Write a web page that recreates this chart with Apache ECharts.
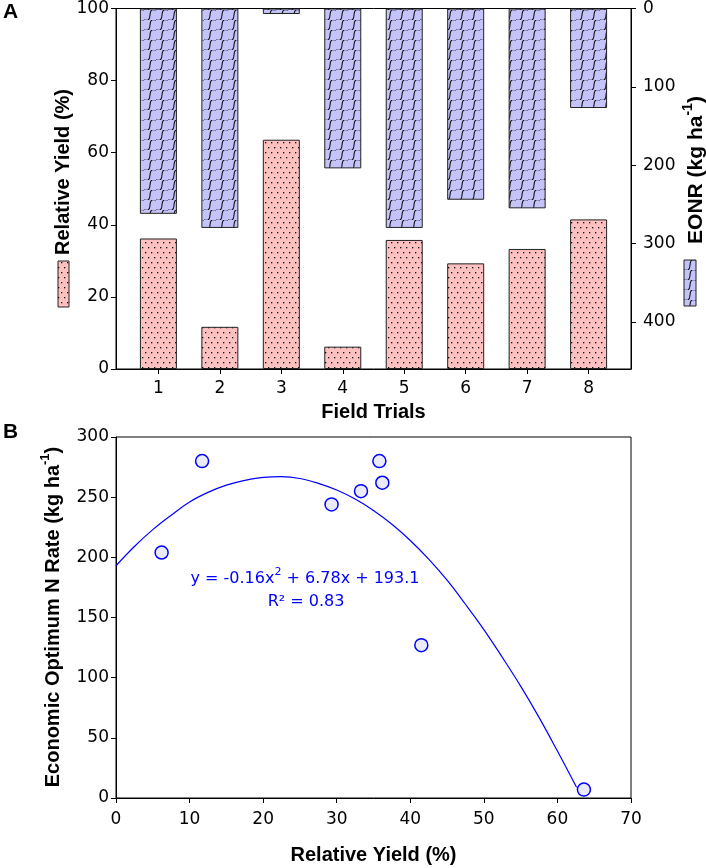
<!DOCTYPE html>
<html><head><meta charset="utf-8">
<script src="https://cdn.jsdelivr.net/npm/echarts@6/dist/echarts.min.js"></script>
<style>html,body{margin:0;padding:0;background:#fff}#c{width:706px;height:868px}</style>
</head><body><div id="c"></div>
<script>
// ---- data ----
const trials = [1, 2, 3, 4, 5, 6, 7, 8];
const relativeYield = [36.2, 11.7, 63.6, 6.2, 35.8, 29.3, 33.3, 41.5];   // %
const eonr = [262, 280, 7, 204, 280, 244, 255, 127];                    // kg ha-1
// fitted curve
const fitX = [0, 2.5, 5, 7.5, 10, 12.5, 15, 17.5, 20, 22.5, 25, 27.5, 30, 32.5, 35, 37.5, 40, 42.5, 45, 47.5, 50, 52.5, 55, 57.5, 60, 62.6];
const fitY = [193, 209, 223, 235, 246, 254, 260, 264, 266.5, 267, 265.5, 261.5, 256, 248.5, 239, 227.5, 214, 198.5, 181, 161, 140, 117, 93, 67, 39, 9];

const FONT = 'Liberation Sans, Arial, sans-serif';
const TICKFONT = 'DejaVu Sans, Liberation Sans, sans-serif';

// ---- patterns ----
function dotPattern() {
  const c = document.createElement('canvas'); c.width = 6; c.height = 10;
  const g = c.getContext('2d');
  g.fillStyle = '#FFC0C0'; g.fillRect(0, 0, 6, 10);
  g.fillStyle = '#000';
  g.fillRect(1, 2, 1.3, 1.3); g.fillRect(4, 7, 1.3, 1.3);
  return { image: c, repeat: 'repeat' };
}
function wavePattern() {
  const W = 12, H = 10;
  const c = document.createElement('canvas'); c.width = W; c.height = H;
  const g = c.getContext('2d');
  g.fillStyle = '#C4C4FA'; g.fillRect(0, 0, W, H);
  g.strokeStyle = '#111'; g.lineWidth = 1.1;
  for (let k = -1; k <= 1; k++) {
    g.beginPath();
    for (let i = 0; i <= 48; i++) {
      const t = i / 48;
      const off = 2.6 * Math.sin(2 * Math.PI * t);
      const px = t * W + k * W + off * 0.55, py = H - t * H + off * 0.85;
      if (i === 0) g.moveTo(px, py); else g.lineTo(px, py);
    }
    g.stroke();
  }
  return { image: c, repeat: 'repeat' };
}
const pinkFill = dotPattern();
const blueFill = wavePattern();

const axisBase = {
  axisLine: { show: true, lineStyle: { color: '#000', width: 1 } },
  axisTick: { show: true, inside: false, length: 5, lineStyle: { color: '#000' } },
  axisLabel: { color: '#000', fontSize: 17, fontFamily: TICKFONT },
  splitLine: { show: false }
};

const chart = echarts.init(document.getElementById('c'));
const option = {
  animation: false,
  backgroundColor: '#fff',
  grid: [
    { left: 116, right: 75, top: 8, height: 361, show: true, borderColor: '#000', borderWidth: 1, backgroundColor: 'transparent' },
    { left: 116, right: 75, top: 437, height: 361, show: true, borderColor: '#000', borderWidth: 1, backgroundColor: 'transparent' }
  ],
  xAxis: [
    Object.assign({}, axisBase, {
      type: 'value', gridIndex: 0, min: 0.31, max: 8.69,
      axisTick: Object.assign({}, axisBase.axisTick, { customValues: trials }),
      axisLabel: Object.assign({}, axisBase.axisLabel, { customValues: trials, margin: 11 })
    }),
    Object.assign({}, axisBase, {
      type: 'value', gridIndex: 1, min: 0, max: 70, interval: 10,
      axisLabel: Object.assign({}, axisBase.axisLabel, { margin: 13 })
    })
  ],
  yAxis: [
    Object.assign({}, axisBase, {
      type: 'value', gridIndex: 0, position: 'left', min: 0, max: 100, interval: 20,
      axisLabel: Object.assign({}, axisBase.axisLabel, { margin: 7 })
    }),
    Object.assign({}, axisBase, {
      type: 'value', gridIndex: 0, position: 'right', inverse: true, min: 0, max: 460, interval: 100,
      axisLabel: Object.assign({}, axisBase.axisLabel, { margin: 12, showMaxLabel: false })
    }),
    Object.assign({}, axisBase, {
      type: 'value', gridIndex: 1, position: 'left', min: 0, max: 300, interval: 50,
      axisLabel: Object.assign({}, axisBase.axisLabel, { margin: 7 })
    })
  ],
  series: [
    {
      type: 'bar', name: 'Relative Yield', xAxisIndex: 0, yAxisIndex: 0,
      barWidth: 37, barGap: '-100%',
      itemStyle: { color: pinkFill, borderColor: '#222', borderWidth: 1 },
      data: trials.map((t, i) => [t, relativeYield[i]])
    },
    {
      type: 'bar', name: 'EONR', xAxisIndex: 0, yAxisIndex: 1,
      barWidth: 37, barGap: '-100%',
      itemStyle: { color: blueFill, borderColor: '#222', borderWidth: 1 },
      data: trials.map((t, i) => [t, eonr[i]])
    },
    {
      type: 'line', name: 'fit', xAxisIndex: 1, yAxisIndex: 2,
      smooth: 0.4, showSymbol: false, symbol: 'none',
      lineStyle: { color: '#0000FF', width: 1.2 },
      data: fitX.map((x, i) => [x, fitY[i]]), z: 2
    },
    {
      type: 'scatter', name: 'points', xAxisIndex: 1, yAxisIndex: 2,
      symbol: 'circle', symbolSize: 13,
      itemStyle: { color: '#EBEBF8', borderColor: '#0000FF', borderWidth: 1.5, opacity: 1 },
      data: relativeYield.map((x, i) => [x, eonr[i]]), z: 3
    }
  ],
  graphic: [
    { type: 'text', x: 3, y: 12, style: { text: 'A', font: 'bold 21px ' + FONT, fill: '#000', align: 'left', verticalAlign: 'middle' } },
    { type: 'text', x: 3, y: 432, style: { text: 'B', font: 'bold 21px ' + FONT, fill: '#000', align: 'left', verticalAlign: 'middle' } },
    { type: 'text', x: 63, y: 172, rotation: Math.PI / 2, style: { text: 'Relative Yield (%)', font: 'bold 20px ' + FONT, fill: '#000', align: 'center', verticalAlign: 'middle' } },
    { type: 'rect', shape: { x: 58, y: 261, width: 11, height: 46 }, style: { fill: pinkFill, stroke: '#222', lineWidth: 1 } },
    { type: 'text', x: 694, y: 170, rotation: Math.PI / 2, style: {
        text: '{n|EONR (kg ha}{s|-1}{n|)}', fill: '#000', align: 'center', verticalAlign: 'middle',
        rich: { n: { font: 'bold 21px ' + FONT, fill: '#000', verticalAlign: 'bottom', lineHeight: 25 }, s: { font: 'bold 14px ' + FONT, fill: '#000', verticalAlign: 'top', lineHeight: 15 } } } },
    { type: 'rect', shape: { x: 684, y: 260, width: 12, height: 46 }, style: { fill: blueFill, stroke: '#222', lineWidth: 1 } },
    { type: 'text', x: 373.5, y: 412, style: { text: 'Field Trials', font: 'bold 20px ' + FONT, fill: '#000', align: 'center', verticalAlign: 'middle' } },
    { type: 'text', x: 373.5, y: 855, style: { text: 'Relative Yield (%)', font: 'bold 20px ' + FONT, fill: '#000', align: 'center', verticalAlign: 'middle' } },
    { type: 'text', x: 51, y: 617, rotation: Math.PI / 2, style: {
        text: '{n|Economic Optimum N Rate (kg ha}{s|-1}{n|)}', fill: '#000', align: 'center', verticalAlign: 'middle',
        rich: { n: { font: 'bold 20px ' + FONT, fill: '#000', verticalAlign: 'bottom', lineHeight: 24 }, s: { font: 'bold 13px ' + FONT, fill: '#000', verticalAlign: 'top', lineHeight: 14 } } } },
    { type: 'text', x: 305, y: 577, style: {
        text: '{n|y = -0.16x}{s|2}{n| + 6.78x + 193.1}', fill: '#0000FF', align: 'center', verticalAlign: 'middle',
        rich: { n: { font: '16px ' + TICKFONT, fill: '#0000FF', verticalAlign: 'bottom', lineHeight: 20 }, s: { font: '11px ' + TICKFONT, fill: '#0000FF', verticalAlign: 'top', lineHeight: 12 } } } },
    { type: 'text', x: 306, y: 602, style: { text: 'R² = 0.83', font: '16px ' + TICKFONT, fill: '#0000FF', align: 'center', verticalAlign: 'middle' } }
  ]
};
chart.setOption(option);
</script>
</body></html>
